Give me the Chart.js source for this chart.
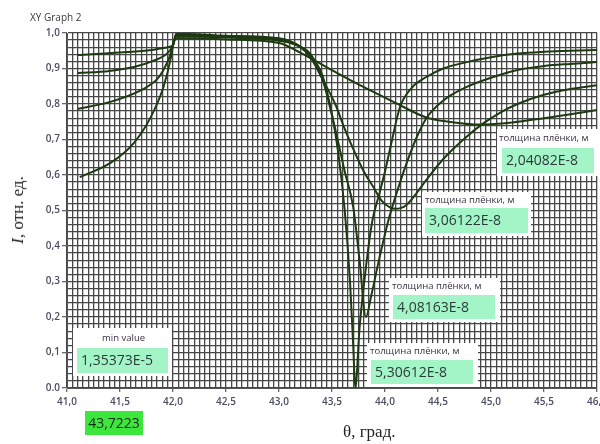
<!DOCTYPE html>
<html>
<head>
<meta charset="utf-8">
<script src="https://cdn.jsdelivr.net/npm/chart.js@4.4.1/dist/chart.umd.min.js"></script>
<style>
  body { margin: 0; background: #fff; }
  #wrap { position: relative; width: 600px; height: 444px; overflow: hidden; }
  #chart { position: absolute; left: 0; top: 0; }
  .title { position: absolute; left: 30px; top: 10px; font: 10px 'Open Sans', sans-serif; color: #3a3a3a; }
  .ytitle { position: absolute; left: 18px; top: 210px; transform: translate(-50%, -50%) rotate(-90deg);
            font: 17px 'Liberation Serif', serif; color: #222; white-space: nowrap; }
  .xtitle { position: absolute; left: 343px; top: 422px; font: 17px 'Liberation Serif', serif; color: #222; white-space: nowrap; }
  .frame { position: absolute; background: #fff; }
  .cap { position: absolute; font: 9.5px 'Open Sans', sans-serif; color: #3a3040; white-space: nowrap; }
  .val { position: absolute; background: #a3f5c8; font: 14px 'Open Sans', sans-serif; color: #2c3a3a;
         padding-left: 4px; line-height: 24px; white-space: nowrap; box-sizing: border-box; }
  .hot { position: absolute; background: #3ce63c; font: 14px 'Open Sans', sans-serif; color: #1c2a1c;
         line-height: 24px; text-align: center; }
</style>
</head>
<body>
<div id="wrap">
  <canvas id="chart" width="600" height="444"></canvas>
  <div class="title">XY Graph 2</div>
  <div class="ytitle"><i>I</i>, отн. ед.</div>
  <div class="xtitle">θ, град.</div>

  <div class="frame" style="left:73px;top:328px;width:99px;height:48px;"></div>
  <div class="cap" style="left:102px;top:331px;">min value</div>
  <div class="val" style="left:77px;top:348px;width:91px;height:25px;">1,35373E-5</div>
  <div class="hot" style="left:85px;top:411px;width:58px;height:24px;">43,7223</div>

  <div class="frame" style="left:497px;top:129px;width:103px;height:47px;"></div>
  <div class="cap" style="left:499px;top:131px;">толщина плёнки, м</div>
  <div class="val" style="left:502px;top:148px;width:92px;height:25px;">2,04082E-8</div>

  <div class="frame" style="left:422px;top:192px;width:109px;height:44px;"></div>
  <div class="cap" style="left:425px;top:193px;">толщина плёнки, м</div>
  <div class="val" style="left:425px;top:208px;width:103px;height:25px;">3,06122E-8</div>

  <div class="frame" style="left:389px;top:278px;width:111px;height:44px;"></div>
  <div class="cap" style="left:392px;top:279px;">толщина плёнки, м</div>
  <div class="val" style="left:393px;top:295px;width:102px;height:24px;">4,08163E-8</div>

  <div class="frame" style="left:367px;top:343px;width:111px;height:44px;"></div>
  <div class="cap" style="left:370px;top:344px;">толщина плёнки, м</div>
  <div class="val" style="left:371px;top:360px;width:102px;height:24px;">5,30612E-8</div>
</div>
<script>
// film thickness 2,04082E-8 m
const theta20 = [41.12, 41.41, 41.63, 41.79, 41.91, 41.98, 42.0, 42.03, 42.5, 43.0, 43.2, 43.44, 43.75, 44.08, 44.39, 44.6, 44.9, 45.2, 45.5, 45.75, 46.0];
const refl20  = [0.594, 0.634, 0.69, 0.763, 0.848, 0.93, 0.965, 0.985, 0.982, 0.972, 0.945, 0.905, 0.855, 0.806, 0.762, 0.75, 0.742, 0.748, 0.76, 0.771, 0.783];

// film thickness 3,06122E-8 m
const theta30 = [41.1, 41.41, 41.7, 41.85, 41.91, 41.97, 42.0, 42.03, 42.5, 43.0, 43.2, 43.3, 43.41, 43.53, 43.62, 43.72, 43.8, 43.89, 43.97, 44.05, 44.1, 44.2, 44.3, 44.39, 44.55, 44.74, 44.93, 45.1, 45.25, 45.5, 45.75, 46.0];
const refl30  = [0.786, 0.806, 0.839, 0.87, 0.896, 0.935, 0.966, 0.99, 0.987, 0.978, 0.96, 0.93, 0.87, 0.80, 0.73, 0.66, 0.61, 0.566, 0.527, 0.508, 0.505, 0.515, 0.55, 0.586, 0.645, 0.70, 0.746, 0.778, 0.80, 0.826, 0.842, 0.853];

// film thickness 4,08163E-8 m
const theta40 = [41.1, 41.4, 41.63, 41.8, 41.95, 42.0, 42.03, 42.5, 43.0, 43.2, 43.3, 43.41, 43.53, 43.62, 43.7, 43.76, 43.82, 43.87, 43.95, 44.03, 44.1, 44.2, 44.29, 44.39, 44.55, 44.77, 45.0, 45.25, 45.5, 45.75, 46.0];
const refl40  = [0.887, 0.893, 0.904, 0.92, 0.944, 0.966, 0.995, 0.99, 0.982, 0.962, 0.94, 0.87, 0.73, 0.61, 0.51, 0.36, 0.2, 0.26, 0.37, 0.47, 0.54, 0.63, 0.70, 0.76, 0.81, 0.848, 0.874, 0.896, 0.907, 0.913, 0.918];

// film thickness 5,30612E-8 m
const theta53 = [41.1, 41.5, 41.8, 41.95, 42.0, 42.03, 42.5, 43.0, 43.2, 43.3, 43.41, 43.5, 43.56, 43.62, 43.67, 43.7, 43.72, 43.76, 43.82, 43.88, 43.94, 44.0, 44.06, 44.14, 44.25, 44.39, 44.55, 44.77, 45.0, 45.25, 45.5, 45.75, 46.0];
const refl53  = [0.938, 0.945, 0.952, 0.96, 0.966, 0.998, 0.992, 0.985, 0.962, 0.935, 0.88, 0.77, 0.66, 0.5, 0.3, 0.12, 0.0, 0.17, 0.34, 0.47, 0.54, 0.61, 0.69, 0.79, 0.845, 0.876, 0.9, 0.918, 0.932, 0.942, 0.947, 0.95, 0.952];

const xMin = 41, xMax = 46, xStep = 0.05, xMajor = 0.5;
const yMin = 0, yMax = 1, yStep = 0.02, yMajor = 0.1;

const xTicks = [];
for (let i = 0; i <= Math.round((xMax - xMin) / xStep); i++) xTicks.push(+(xMin + i * xStep).toFixed(2));
const yTicks = [];
for (let i = 0; i <= Math.round((yMax - yMin) / yStep); i++) yTicks.push(+(yMin + i * yStep).toFixed(2));

const lineColor = '#1e3a12';
const gridColor = '#474747';

function isMajor(v, step) {
  return Math.abs(v / step - Math.round(v / step)) < 1e-6;
}

function toPoints(xs, ys) {
  return xs.map((x, i) => ({ x: x, y: ys[i] }));
}

function makeSet(label, xs, ys) {
  return {
    label: label,
    data: toPoints(xs, ys),
    borderColor: lineColor,
    borderWidth: 2,
    pointRadius: 0,
    fill: false,
    cubicInterpolationMode: 'monotone'
  };
}

const tickFont = { family: 'Open Sans', size: 10, weight: '600' };

new Chart(document.getElementById('chart').getContext('2d'), {
  type: 'line',
  data: {
    datasets: [
      makeSet('2,04082E-8', theta20, refl20),
      makeSet('3,06122E-8', theta30, refl30),
      makeSet('4,08163E-8', theta40, refl40),
      makeSet('5,30612E-8', theta53, refl53)
    ]
  },
  options: {
    responsive: false,
    animation: false,
    layout: { padding: { left: 0, top: 33, right: 3, bottom: 0 } },
    plugins: { legend: { display: false }, tooltip: { enabled: false } },
    scales: {
      x: {
        type: 'linear',
        min: xMin,
        max: xMax,
        afterBuildTicks: (s) => { s.ticks = xTicks.map(v => ({ value: v })); },
        afterFit: (s) => { s.height = 56; s.paddingLeft = 0; s.paddingRight = 0; },
        ticks: {
          autoSkip: false,
          maxRotation: 0,
          padding: 4,
          color: '#4b4b63',
          font: tickFont,
          callback: (v) => isMajor(v, xMajor) ? v.toFixed(1).replace('.', ',') : ''
        },
        grid: {
          color: gridColor,
          lineWidth: 1.3,
          tickLength: 4,
          tickColor: (c) => (c.tick && isMajor(c.tick.value, xMajor)) ? '#666' : 'rgba(0,0,0,0)'
        },
        border: { display: true, color: '#555' }
      },
      y: {
        type: 'linear',
        min: yMin,
        max: yMax,
        afterBuildTicks: (s) => { s.ticks = yTicks.map(v => ({ value: v })); },
        afterFit: (s) => { s.width = 67; s.paddingTop = 0; s.paddingBottom = 0; },
        ticks: {
          autoSkip: false,
          padding: 2,
          color: '#4b4b63',
          font: tickFont,
          callback: (v) => {
            if (!isMajor(v, yMajor)) return '';
            return v === 0 ? '0.0' : v.toFixed(1).replace('.', ',');
          }
        },
        grid: {
          color: gridColor,
          lineWidth: 1.3,
          tickLength: 5,
          tickColor: (c) => (c.tick && isMajor(c.tick.value, yMajor)) ? '#666' : 'rgba(0,0,0,0)'
        },
        border: { display: true, color: '#555' }
      }
    }
  }
});
</script>
</body>
</html>
